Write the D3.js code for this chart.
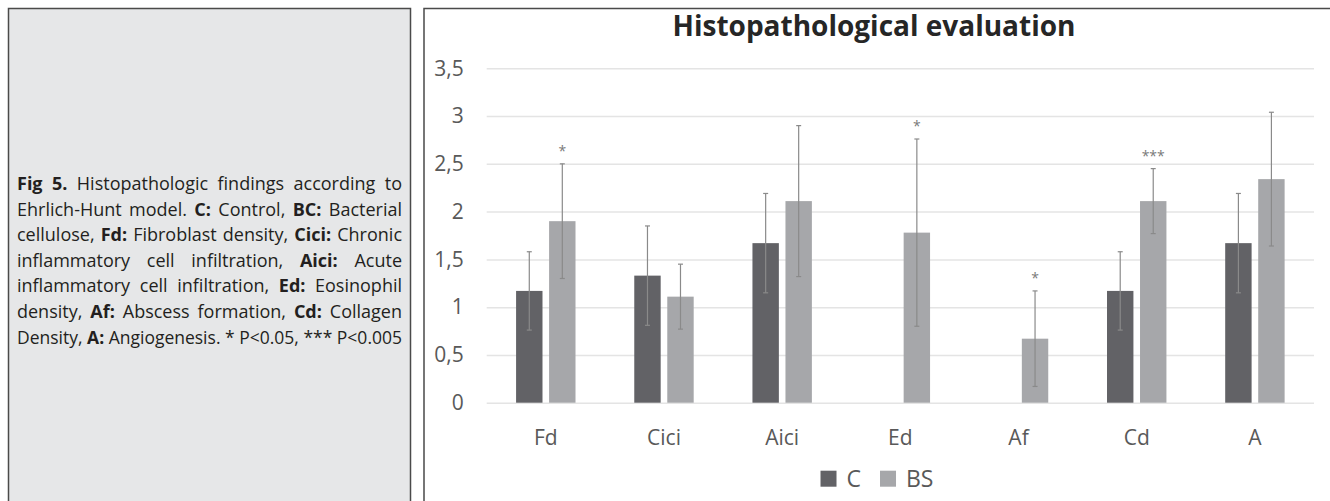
<!DOCTYPE html>
<html>
<head>
<meta charset="utf-8">
<script src="https://cdn.jsdelivr.net/npm/d3@7"></script>
<style>
  html, body { margin: 0; padding: 0; background: #fff; }
  svg { display: block; }
</style>
</head>
<body>
<div id="wrapper"></div>
<script>
// data
const categories = ["Fd", "Cici", "Aici", "Ed", "Af", "Cd", "A"];
const series = ["C", "BS"];
const meanC  = [1.17, 1.33, 1.67, 0, 0, 1.17, 1.67];
const sdC    = [0.41, 0.52, 0.52, 0, 0, 0.41, 0.52];
const meanBS = [1.9, 1.11, 2.11, 1.78, 0.67, 2.11, 2.34];
const sdBS   = [0.6, 0.34, 0.79, 0.98, 0.5, 0.34, 0.7];
const signif = ["*", "", "", "*", "*", "***", ""];
const yTicks = [0, 0.5, 1, 1.5, 2, 2.5, 3, 3.5];
const chartTitle = "Histopathological evaluation";

const captionLines = [
  [["Fig 5.", true], [" Histopathologic findings according to", false]],
  [["Ehrlich-Hunt model. ", false], ["C:", true], [" Control, ", false], ["BC:", true], [" Bacterial", false]],
  [["cellulose, ", false], ["Fd:", true], [" Fibroblast density, ", false], ["Cici:", true], [" Chronic", false]],
  [["inflammatory cell infiltration, ", false], ["Aici:", true], [" Acute", false]],
  [["inflammatory cell infiltration, ", false], ["Ed:", true], [" Eosinophil", false]],
  [["density, ", false], ["Af:", true], [" Abscess formation, ", false], ["Cd:", true], [" Collagen", false]],
  [["Density, ", false], ["A:", true], [" Angiogenesis. * P<0.05, *** P<0.005", false]],
];

const colors = { C: "#626266", BS: "#a6a7aa" };

let dimensions = {
  width: 1330,
  height: 501,
  panel: { x: 424, y: 8.5 },
  plot: { left: 486.7, right: 1314, top: 68.3, bottom: 402.7 },
};

const svg = d3.select("#wrapper").append("svg")
  .attr("width", dimensions.width)
  .attr("height", dimensions.height);

// ---- left caption panel ----
svg.append("rect")
  .attr("x", 8.5).attr("y", 8.5)
  .attr("width", 402).attr("height", 520)
  .attr("fill", "#e6e7e8")
  .attr("stroke", "#4a4a4a")
  .attr("stroke-width", 1.5);

const capX = 17, capW = 385, capY0 = 190, capLH = 25.6;
captionLines.forEach((parts, i) => {
  const t = svg.append("text")
    .attr("x", capX)
    .attr("y", capY0 + i * capLH)
    .attr("font-family", "'Open Sans', sans-serif")
    .attr("font-size", 18)
    .attr("fill", "#231f20")
    .style("white-space", "pre");
  parts.forEach(p => {
    t.append("tspan").text(p[0]).attr("font-weight", p[1] ? "bold" : "normal");
  });
  const full = parts.map(p => p[0]).join("");
  const spaces = (full.match(/ /g) || []).length;
  const w = t.node().getComputedTextLength();
  // justify each line to the panel width
  if (spaces > 0 && w <= capW) t.attr("word-spacing", (capW - w) / spaces);
  else if (w > capW) t.attr("textLength", capW).attr("lengthAdjust", "spacingAndGlyphs");
});

// ---- chart panel ----
svg.append("rect")
  .attr("x", dimensions.panel.x).attr("y", dimensions.panel.y)
  .attr("width", 1000).attr("height", 520)
  .attr("fill", "#fff")
  .attr("stroke", "#4a4a4a")
  .attr("stroke-width", 1.5);

const panelCenter = (dimensions.panel.x + dimensions.width) / 2;

svg.append("text")
  .attr("x", panelCenter - 3)
  .attr("y", 36)
  .attr("text-anchor", "middle")
  .attr("font-family", "'Open Sans', sans-serif")
  .attr("font-weight", "bold")
  .attr("font-size", 28)
  .attr("fill", "#262626")
  .text(chartTitle);

const p = dimensions.plot;

const yScale = d3.scaleLinear()
  .domain([0, 3.5])
  .range([p.bottom, p.top]);

const xScale = d3.scaleBand()
  .domain(categories)
  .range([p.left, p.right])
  .padding(0);

const xSub = d3.scaleBand()
  .domain(series)
  .range([0, xScale.bandwidth()])
  .paddingInner(0.2)
  .paddingOuter(0.89);

// gridlines + y labels
const yAxisGenerator = d3.axisLeft(yScale)
  .tickValues(yTicks)
  .tickSize(-(p.right - p.left))
  .tickPadding(23)
  .tickFormat(d => String(d).replace(".", ","));

const yAxis = svg.append("g")
  .attr("transform", `translate(${p.left},0)`)
  .call(yAxisGenerator);
yAxis.select(".domain").remove();
yAxis.selectAll(".tick line").attr("stroke", "#e4e4e4").attr("stroke-width", 1.5);
yAxis.selectAll(".tick text")
  .attr("font-family", "'Open Sans', sans-serif")
  .attr("font-size", 21)
  .attr("fill", "#595959");

// x labels
const xAxisGenerator = d3.axisBottom(xScale)
  .tickSize(0)
  .tickPadding(27);
const xAxis = svg.append("g")
  .attr("transform", `translate(0,${p.bottom})`)
  .call(xAxisGenerator);
xAxis.select(".domain").remove();
xAxis.selectAll(".tick text")
  .attr("font-family", "'Open Sans', sans-serif")
  .attr("font-size", 21)
  .attr("fill", "#595959");

// bars
const rows = categories.map((c, i) => ({
  cat: c,
  vals: [
    { s: "C", m: meanC[i], sd: sdC[i], sig: "" },
    { s: "BS", m: meanBS[i], sd: sdBS[i], sig: signif[i] },
  ],
}));

const groups = svg.append("g").selectAll("g")
  .data(rows)
  .join("g")
  .attr("transform", d => `translate(${xScale(d.cat)},0)`);

const items = groups.selectAll("g")
  .data(d => d.vals.filter(v => v.m > 0))
  .join("g");

items.append("rect")
  .attr("x", d => xSub(d.s))
  .attr("width", xSub.bandwidth())
  .attr("y", d => yScale(d.m))
  .attr("height", d => yScale(0) - yScale(d.m))
  .attr("fill", d => colors[d.s]);

const cx = d => xSub(d.s) + xSub.bandwidth() / 2;

items.append("line")
  .attr("x1", cx).attr("x2", cx)
  .attr("y1", d => yScale(d.m - d.sd))
  .attr("y2", d => yScale(d.m + d.sd))
  .attr("stroke", "#8a8a8a")
  .attr("stroke-width", 1.2);

items.append("line")
  .attr("x1", d => cx(d) - 2.5).attr("x2", d => cx(d) + 2.5)
  .attr("y1", d => yScale(d.m + d.sd))
  .attr("y2", d => yScale(d.m + d.sd))
  .attr("stroke", "#8a8a8a")
  .attr("stroke-width", 1.2);

items.append("line")
  .attr("x1", d => cx(d) - 2.5).attr("x2", d => cx(d) + 2.5)
  .attr("y1", d => yScale(d.m - d.sd))
  .attr("y2", d => yScale(d.m - d.sd))
  .attr("stroke", "#8a8a8a")
  .attr("stroke-width", 1.2);

items.filter(d => d.sig)
  .append("text")
  .attr("x", cx)
  .attr("y", d => yScale(d.m + d.sd) - 8)
  .attr("text-anchor", "middle")
  .attr("font-family", "'Open Sans', sans-serif")
  .attr("font-size", 14)
  .attr("fill", "#7a7a7a")
  .text(d => d.sig);

// legend
const legend = svg.append("g");
let lx = 0;
series.forEach(s => {
  const item = legend.append("g").attr("transform", `translate(${lx},0)`);
  item.append("rect")
    .attr("x", 0).attr("y", -8)
    .attr("width", 16).attr("height", 16)
    .attr("fill", colors[s]);
  const t = item.append("text")
    .attr("x", 26).attr("y", 8)
    .attr("font-family", "'Open Sans', sans-serif")
    .attr("font-size", 23)
    .attr("fill", "#595959")
    .text(s);
  lx += 26 + t.node().getComputedTextLength() + 19;
});
const legendW = lx - 19;
legend.attr("transform", `translate(${panelCenter - legendW / 2},478.7)`);
</script>
</body>
</html>
